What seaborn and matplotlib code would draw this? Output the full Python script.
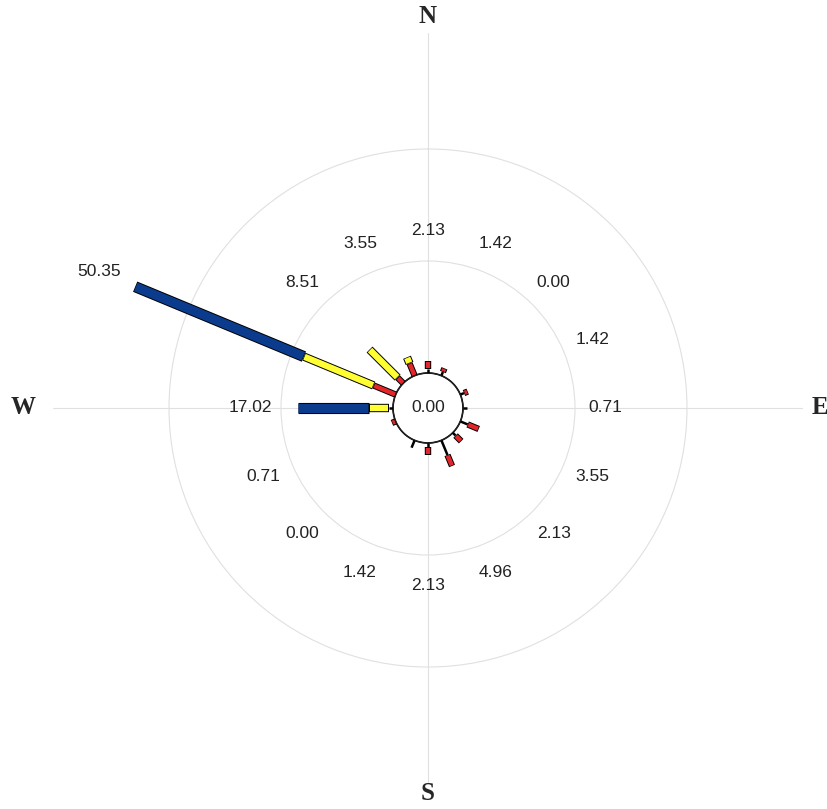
import numpy as np
import matplotlib
matplotlib.use('Agg')
import matplotlib.pyplot as plt
import seaborn as sns

sns.set_style('white')

# %% data
directions = ['N', 'NNE', 'NE', 'ENE', 'E', 'ESE', 'SE', 'SSE',
              'S', 'SSW', 'SW', 'WSW', 'W', 'WNW', 'NW', 'NNW']
bearings = np.arange(16) * 22.5
black = [0.71, 0.71, 0.00, 0.71, 0.71, 1.42, 0.71, 2.83,
         0.71, 1.42, 0.00, 0.00, 0.71, 0.00, 0.00, 0.00]
red = [1.42, 0.71, 0.00, 0.71, 0.00, 2.13, 1.42, 2.13,
       1.42, 0.00, 0.00, 0.71, 0.00, 4.26, 1.42, 2.37]
yellow = [0.00, 0.00, 0.00, 0.00, 0.00, 0.00, 0.00, 0.00,
          0.00, 0.00, 0.00, 0.00, 3.55, 13.48, 7.09, 1.18]
blue = [0.00, 0.00, 0.00, 0.00, 0.00, 0.00, 0.00, 0.00,
        0.00, 0.00, 0.00, 0.00, 12.76, 32.61, 0.00, 0.00]
total_labels = ['2.13', '1.42', '0.00', '1.42', '0.71', '3.55', '2.13', '4.96',
                '2.13', '1.42', '0.00', '0.71', '17.02', '50.35', '8.51', '3.55']
calm_label = '0.00'
grid_rings = [20, 40]
compass = ['N', 'E', 'S', 'W']

# %% styling
px_per_unit = 5.6
hole_px = 35
rmax = 60.7
seg_colors = ['black', '#e3262b', '#ffff33', '#0b3b8c']
seg_widths = [1.8, 3.2, 4.6, 6.6]   # inner line width in pt
edge = 1.4                         # extra width of black outline in pt
trim = 0.12

f = plt.figure(figsize=(8.28, 8.09), dpi=100)
cx, cy = 428, 809 - 408
R = hole_px + rmax * px_per_unit
ax = f.add_axes([(cx - R) / 828, (cy - R) / 809, 2 * R / 828, 2 * R / 809],
                projection='polar')
ax.set_theta_zero_location('N')
ax.set_theta_direction(-1)
ax.set_ylim(0, rmax)
ax.set_rorigin(-hole_px / px_per_unit)
ax.spines['polar'].set_visible(False)
ax.spines['inner'].set_visible(False)
ax.set_facecolor('none')
ax.set_xticks(np.radians([0, 90, 180, 270]))
ax.set_xticklabels([])
ax.set_yticks(grid_rings)
ax.set_yticklabels([])
ax.grid(True, color='#e0e0e0', lw=0.8)
ax.tick_params(length=0)

# inner calm circle
th = np.linspace(0, 2 * np.pi, 400)
ax.plot(th, np.zeros_like(th), color='black', lw=1.2, clip_on=False)
ax.text(0.5, 0.5, calm_label, transform=ax.transAxes, ha='center', va='center',
        fontsize=12.5, color='#222222', family='Liberation Sans')

# stacked bars
segments = [black, red, yellow, blue]
for i, b in enumerate(bearings):
    t = np.radians(b)
    start = 0.0
    for k, seg in enumerate(segments):
        v = seg[i]
        if v <= 0:
            continue
        end = start + v
        if k == 0:
            ax.plot([t, t], [start, end], color='black', lw=seg_widths[k],
                    solid_capstyle='butt', zorder=3)
        else:
            ax.plot([t, t], [start, end], color='black', lw=seg_widths[k] + edge,
                    solid_capstyle='butt', zorder=3)
            ax.plot([t, t], [start + trim, end - trim], color=seg_colors[k],
                    lw=seg_widths[k], solid_capstyle='butt', zorder=4)
        start = end
    total = black[i] + red[i] + yellow[i] + blue[i]
    lab_r = max(25.5, total + 7.0)
    ax.text(t, lab_r, total_labels[i], ha='center', va='center', fontsize=12.5,
            color='#222222', family='Liberation Sans', clip_on=False)

# compass letters
for name, b in zip(compass, [0, 90, 180, 270]):
    rr = {'N': 63.6, 'E': 63.8, 'S': 62.6, 'W': 66.0}[name]
    ax.text(np.radians(b), rr, name, ha='center', va='center', fontsize=18,
            fontweight='bold', family='Liberation Serif', clip_on=False)

f.savefig('out.png', dpi=100, facecolor='white')
